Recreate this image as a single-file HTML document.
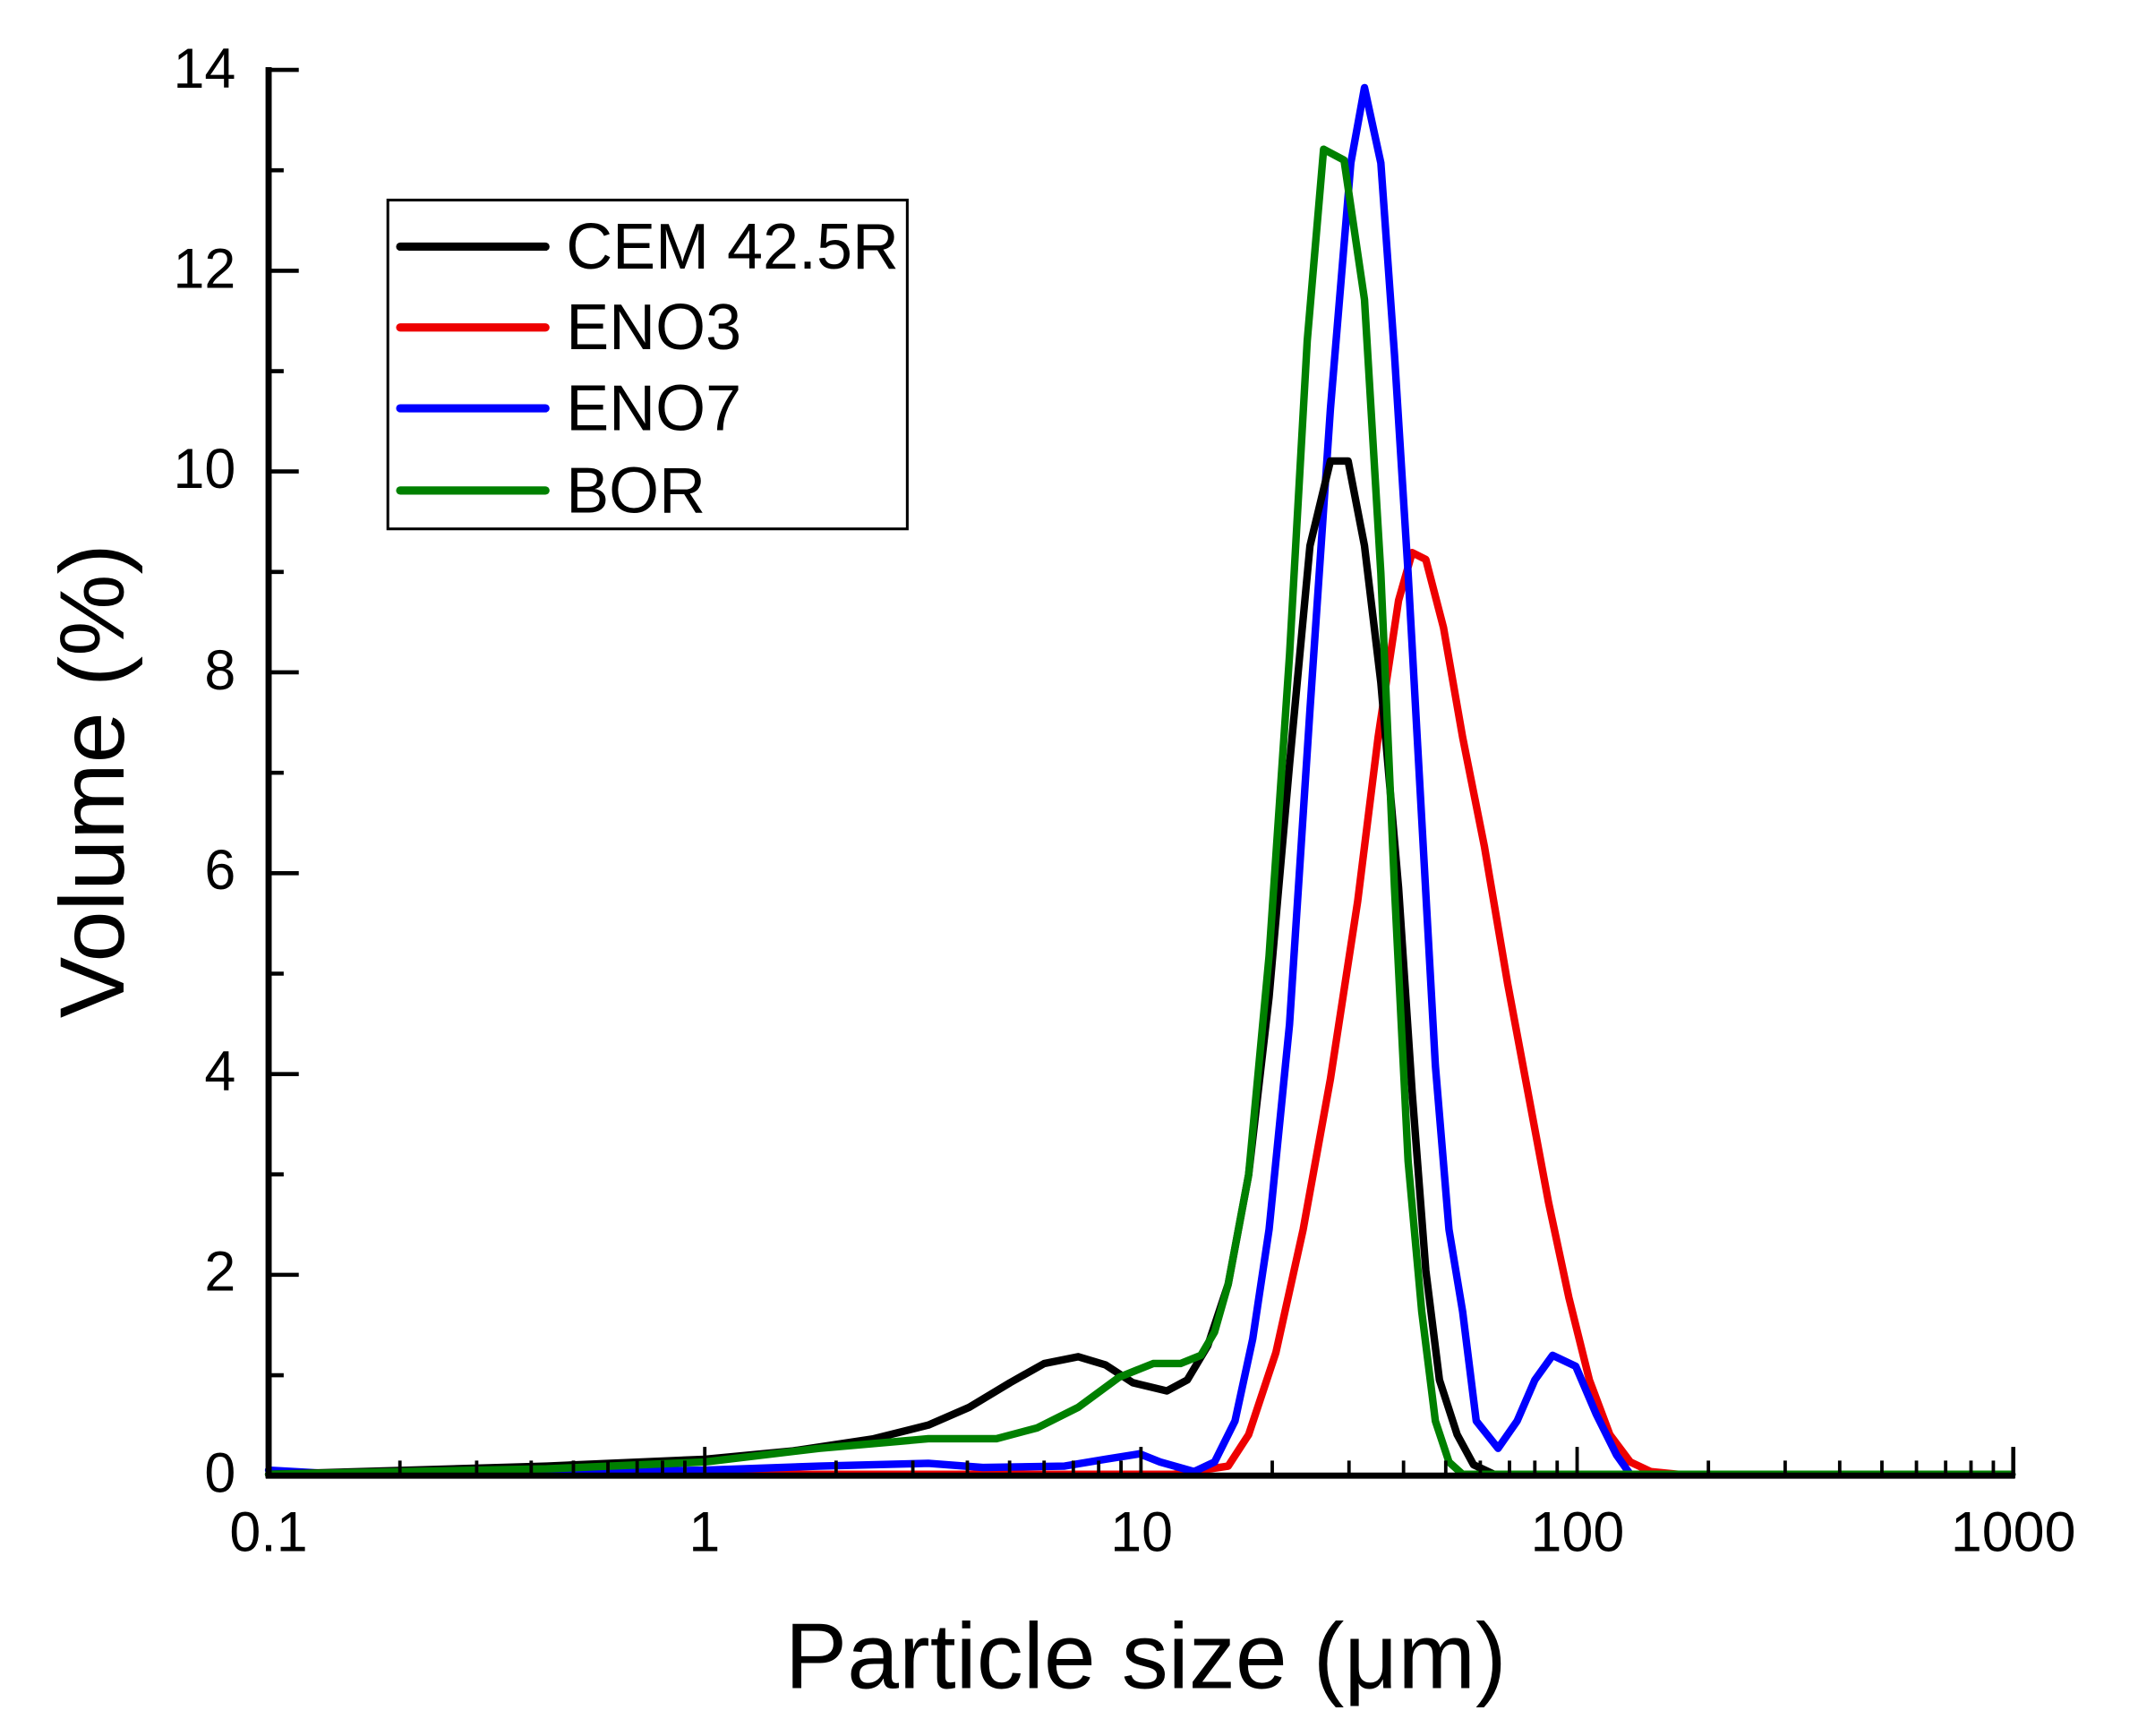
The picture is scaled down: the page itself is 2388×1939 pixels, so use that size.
<!DOCTYPE html>
<html><head><meta charset="utf-8"><style>
html,body{margin:0;padding:0;background:#fff;}
svg{display:block;}
text{font-family:"Liberation Sans",Arial,sans-serif;fill:#000;}
</style></head><body>
<svg width="2388" height="1939" viewBox="0 0 1560 1267" preserveAspectRatio="none" xmlns="http://www.w3.org/2000/svg">
<defs>
<g id="dec" stroke="#000" stroke-width="2.5">
<line x1="0" y1="1077" x2="0" y2="1056"/>
<line x1="95.8" y1="1077" x2="95.8" y2="1066"/>
<line x1="151.8" y1="1077" x2="151.8" y2="1066"/>
<line x1="191.6" y1="1077" x2="191.6" y2="1066"/>
<line x1="222.4" y1="1077" x2="222.4" y2="1066"/>
<line x1="247.6" y1="1077" x2="247.6" y2="1066"/>
<line x1="268.9" y1="1077" x2="268.9" y2="1066"/>
<line x1="287.4" y1="1077" x2="287.4" y2="1066"/>
<line x1="303.7" y1="1077" x2="303.7" y2="1066"/>
</g>
</defs>
<rect width="1560" height="1267" fill="#fff"/>
<g fill="none" stroke-linejoin="round" stroke-linecap="round" stroke-width="5.5" transform="matrix(0.99453,0,0,0.99805,1.072,-0.894)">
<polyline stroke="#e00" points="196,1079 860,1079 900,1073 915,1050 935,990 955,900 975,790 995,660 1010,540 1025,440 1035,405 1045,410 1058,460 1072,540 1088,620 1105,720 1120,800 1135,880 1150,950 1165,1010 1180,1050 1195,1070 1210,1077 1230,1079 1475,1079"/>
<polyline stroke="#00f" points="196,1076 250,1079 516,1076 600,1073 680,1071 720,1074 780,1073 810,1068 835,1064 850,1070 875,1077 890,1070 905,1040 918,980 930,900 945,750 960,520 975,300 990,120 1000,65 1012,120 1022,260 1032,420 1042,600 1052,780 1062,900 1072,960 1082,1040 1098,1060 1112,1040 1125,1010 1138,992 1155,1000 1170,1035 1185,1065 1195,1079 1475,1079"/>
<polyline stroke="#000" points="196,1079 300,1076 400,1073 516,1068 580,1062 640,1053 680,1043 710,1030 740,1012 765,998 790,993 810,999 830,1012 855,1018 870,1010 885,985 900,940 915,860 930,730 945,560 960,400 975,338 988,338 1000,400 1012,500 1025,650 1035,800 1045,930 1055,1010 1068,1050 1080,1072 1095,1079 1475,1079"/>
<polyline stroke="#008000" points="196,1079 400,1075 516,1070 600,1060 680,1053 730,1053 760,1045 790,1030 820,1008 845,998 865,998 880,992 890,975 900,940 915,860 930,700 945,480 958,250 970,110 985,118 1000,220 1012,420 1022,650 1032,850 1042,960 1052,1040 1062,1070 1072,1079 1475,1079"/>
</g>
<g stroke="#000" stroke-width="4.5" fill="none">
<line x1="196" y1="49" x2="196" y2="1079"/>
<line x1="194" y1="1077" x2="1470" y2="1077"/>
</g>
<g stroke="#000" stroke-width="3">
<line x1="196" y1="1077" x2="218" y2="1077"/>
<line x1="196" y1="1003.7" x2="207" y2="1003.7"/>
<line x1="196" y1="930.4" x2="218" y2="930.4"/>
<line x1="196" y1="857.1" x2="207" y2="857.1"/>
<line x1="196" y1="783.9" x2="218" y2="783.9"/>
<line x1="196" y1="710.6" x2="207" y2="710.6"/>
<line x1="196" y1="637.3" x2="218" y2="637.3"/>
<line x1="196" y1="564" x2="207" y2="564"/>
<line x1="196" y1="490.7" x2="218" y2="490.7"/>
<line x1="196" y1="417.4" x2="207" y2="417.4"/>
<line x1="196" y1="344.1" x2="218" y2="344.1"/>
<line x1="196" y1="270.9" x2="207" y2="270.9"/>
<line x1="196" y1="197.6" x2="218" y2="197.6"/>
<line x1="196" y1="124.3" x2="207" y2="124.3"/>
<line x1="194" y1="51" x2="218" y2="51"/>
<line x1="1469" y1="1079" x2="1469" y2="1056"/>
</g>
<use href="#dec" x="196"/>
<use href="#dec" x="514.25"/>
<use href="#dec" x="832.5"/>
<use href="#dec" x="1150.75"/>
<g font-size="41" text-anchor="end">
<text x="172" y="1089">0</text><text x="172" y="942">2</text><text x="172" y="796">4</text><text x="172" y="649">6</text><text x="172" y="503">8</text><text x="172" y="356">10</text><text x="172" y="210">12</text><text x="172" y="64">14</text>
</g>
<g font-size="41" text-anchor="middle">
<text x="196" y="1132">0.1</text><text x="514" y="1132">1</text><text x="833" y="1132">10</text><text x="1151" y="1132">100</text><text x="1469" y="1132">1000</text>
</g>
<text x="836" y="1232" font-size="68" text-anchor="middle">Particle size (μm)</text>
<text transform="translate(90,570) rotate(-90)" font-size="67" text-anchor="middle">Volume (%)</text>
<rect x="283" y="146" width="379" height="240" fill="#fff" stroke="#000" stroke-width="2"/>
<g stroke-width="6" stroke-linecap="round">
<line x1="292" y1="180" x2="398" y2="180" stroke="#000"/>
<line x1="292" y1="239" x2="398" y2="239" stroke="#e00"/>
<line x1="292" y1="298" x2="398" y2="298" stroke="#00f"/>
<line x1="292" y1="358" x2="398" y2="358" stroke="#008000"/>
</g>
<g font-size="47">
<text x="413" y="196">CEM 42.5R</text><text x="413" y="255">ENO3</text><text x="413" y="314">ENO7</text><text x="413" y="374">BOR</text>
</g>
</svg>
</body></html>
